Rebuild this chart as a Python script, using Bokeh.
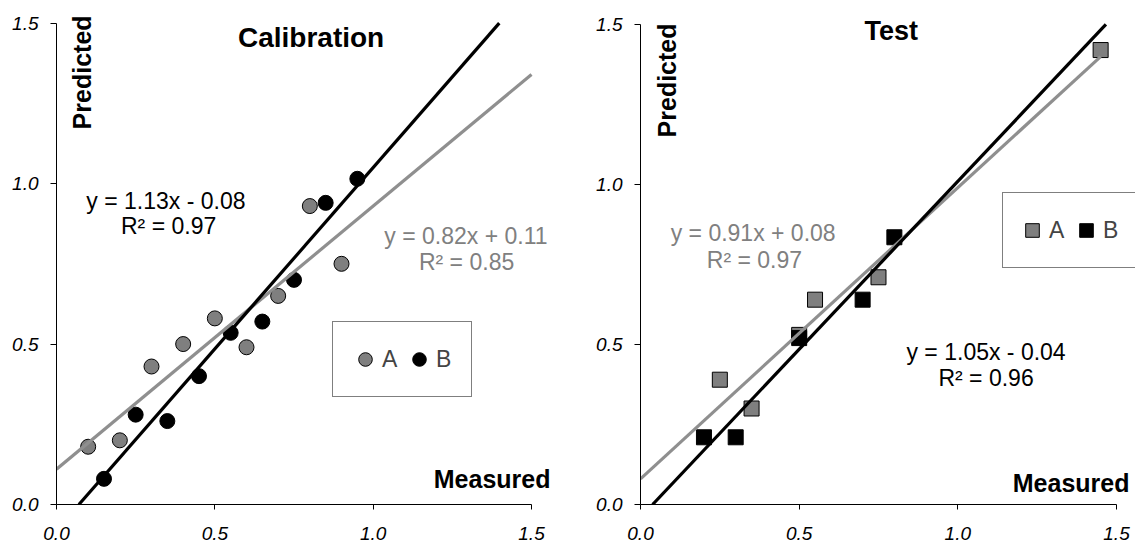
import numpy as np
from bokeh.plotting import figure
from bokeh.layouts import row
from bokeh.models import Range1d, FixedTicker, Label, Legend, LegendItem
from bokeh.embed import file_html
from bokeh.resources import INLINE

# ---------------- data ----------------
cal_a_x = [0.1, 0.2, 0.3, 0.4, 0.5, 0.6, 0.7, 0.8, 0.9]
cal_a_y = [0.18, 0.20, 0.43, 0.50, 0.58, 0.49, 0.65, 0.93, 0.75]
cal_b_x = [0.15, 0.25, 0.35, 0.45, 0.55, 0.65, 0.75, 0.85, 0.95]
cal_b_y = [0.08, 0.28, 0.26, 0.40, 0.535, 0.57, 0.70, 0.94, 1.015]

test_a_x = [0.25, 0.35, 0.5, 0.55, 0.75, 1.45]
test_a_y = [0.39, 0.30, 0.53, 0.64, 0.71, 1.42]
test_b_x = [0.2, 0.3, 0.5, 0.7, 0.8]
test_b_y = [0.21, 0.21, 0.52, 0.64, 0.835]

# trendline coefficients: slope, intercept, R^2
cal_a_fit = [0.82, 0.11, 0.85]
cal_b_fit = [1.13, -0.08, 0.97]
test_a_fit = [0.91, 0.08, 0.97]
test_b_fit = [1.05, -0.04, 0.96]

tick_values = [0.0, 0.5, 1.0, 1.5]
tick_labels = ["0.0", "0.5", "1.0", "1.5"]
series_names = ["A", "B"]
panel_titles = ["Calibration", "Test"]
x_title = "Measured"
y_title = "Predicted"

# ---------------- style ----------------
FONT = "Liberation Sans"
GRAY_FILL = "#7f7f7f"
GRAY_LINE = "#8f8f8f"
GRAY_TEXT = "#808080"
AX_MIN, AX_MAX = 0.0, 1.5
H = 542


def eq_text(fit):
    m, b, r2 = fit
    sign = "+" if b >= 0 else "-"
    return f"y = {m:.2f}x {sign} {abs(b):.2f}", f"R² = {r2:.2f}"


def make_fig(width, left, right, top, bottom, px_per_x, px_per_y):
    # the frame extends a little beyond the 1.5 axis end so that the
    # texts placed there (as in the reference) are not clipped
    x_end = (width - left - right) / px_per_x
    y_end = (H - top - bottom) / px_per_y
    p = figure(width=width, height=H, x_range=Range1d(AX_MIN, x_end),
               y_range=Range1d(AX_MIN, y_end), output_backend="svg",
               toolbar_location=None, title=None,
               min_border_left=left, min_border_right=right,
               min_border_top=top, min_border_bottom=bottom)
    p.grid.visible = False
    p.outline_line_color = None
    p.background_fill_color = "white"
    p.border_fill_color = "white"
    for ax in (p.xaxis[0], p.yaxis[0]):
        ax.bounds = (AX_MIN, AX_MAX)
        ax.ticker = FixedTicker(ticks=tick_values)
        ax.major_label_overrides = {v: s for v, s in zip(tick_values, tick_labels)}
        ax.major_label_text_font = FONT
        ax.major_label_text_font_style = "italic"
        ax.major_label_text_font_size = "19px"
        ax.major_label_text_color = "black"
        ax.axis_line_color = "black"
        ax.axis_line_width = 1
        ax.major_tick_line_color = "black"
        ax.major_tick_in = 0
        ax.minor_tick_in = 0
        ax.minor_tick_out = 0
    p.xaxis.major_tick_out = 5
    p.yaxis.major_tick_out = 6
    p.xaxis.major_label_standoff = 17
    p.yaxis.major_label_standoff = 12
    return p


def add_text(p, x, y, text, size, color="black", bold=False, align="center",
             angle=0.0, baseline="middle"):
    p.add_layout(Label(x=x, y=y, text=text, text_font=FONT,
                       text_font_size=size, text_color=color,
                       text_font_style="bold" if bold else "normal",
                       text_align=align, text_baseline=baseline, angle=angle))


def fit_line(p, fit, x0, x1, color):
    m, b = fit[0], fit[1]
    # keep the trendline inside the 0..1.5 box of the axes
    lo = max(x0, (AX_MIN - b) / m)
    hi = min(x1, (AX_MAX - b) / m)
    xs = np.array([lo, hi])
    ys = m * xs + b
    p.line(xs, ys, line_color=color, line_width=3.2)


def make_legend(ra, rb, loc, padding):
    return Legend(items=[LegendItem(label=series_names[0], renderers=[ra]),
                         LegendItem(label=series_names[1], renderers=[rb])],
                  orientation="horizontal", location=loc,
                  glyph_width=34, glyph_height=34, label_standoff=0, spacing=0,
                  padding=padding, label_height=74 - 2 * padding, margin=0,
                  label_text_font=FONT, label_text_font_size="23px",
                  border_line_color="black", border_line_width=1,
                  background_fill_color="white", background_fill_alpha=1)


# ---------------- Calibration ----------------
p1 = make_fig(570, 56, 4, 3, 38, 316.67, 320.9)
ra = p1.scatter(cal_a_x, cal_a_y, marker="circle", size=15,
                fill_color=GRAY_FILL, line_color="black", line_width=1)
rb = p1.scatter(cal_b_x, cal_b_y, marker="circle", size=15,
                fill_color="black", line_color="black", line_width=1)
fit_line(p1, cal_a_fit, AX_MIN, AX_MAX, GRAY_LINE)
fit_line(p1, cal_b_fit, AX_MIN, AX_MAX, "black")

add_text(p1, 0.804, 1.456, panel_titles[0], "28px", bold=True)
add_text(p1, 0.081, 1.524, y_title, "25px", bold=True, align="right", angle=np.pi / 2)
add_text(p1, 1.560, 0.081, x_title, "25px", bold=True, align="right")
l1, l2 = eq_text(cal_b_fit)
add_text(p1, 0.3455, 0.947, l1, "23px")
add_text(p1, 0.354, 0.869, l2, "23px")
l1, l2 = eq_text(cal_a_fit)
add_text(p1, 1.293, 0.838, l1, "23px", color=GRAY_TEXT)
add_text(p1, 1.295, 0.755, l2, "23px", color=GRAY_TEXT)

p1.add_layout(make_legend(ra, rb, (276, 107), 15))

# ---------------- Test ----------------
p2 = make_fig(567, 70, 2, 3, 37, 317.33, 320.67)
sa = p2.scatter(test_a_x, test_a_y, marker="square", size=15,
                fill_color=GRAY_FILL, line_color="black", line_width=1)
sb = p2.scatter(test_b_x, test_b_y, marker="square", size=15,
                fill_color="black", line_color="black", line_width=1)
fit_line(p2, test_a_fit, AX_MIN, max(test_a_x), GRAY_LINE)
fit_line(p2, test_b_fit, AX_MIN, AX_MAX, "black")

add_text(p2, 0.790, 1.479, panel_titles[1], "27px", bold=True)
add_text(p2, 0.082, 1.503, y_title, "25px", bold=True, align="right", angle=np.pi / 2)
add_text(p2, 1.541, 0.0686, x_title, "25px", bold=True, align="right")
l1, l2 = eq_text(test_a_fit)
add_text(p2, 0.355, 0.847, l1, "23px", color=GRAY_TEXT)
add_text(p2, 0.359, 0.764, l2, "23px", color=GRAY_TEXT)
l1, l2 = eq_text(test_b_fit)
add_text(p2, 1.089, 0.475, l1, "23px")
add_text(p2, 1.089, 0.395, l2, "23px")

p2.add_layout(make_legend(sa, sb, (362, 236), 12))

layout = row(p1, p2, spacing=0)
open("out.html", "w").write(file_html(layout, INLINE))
